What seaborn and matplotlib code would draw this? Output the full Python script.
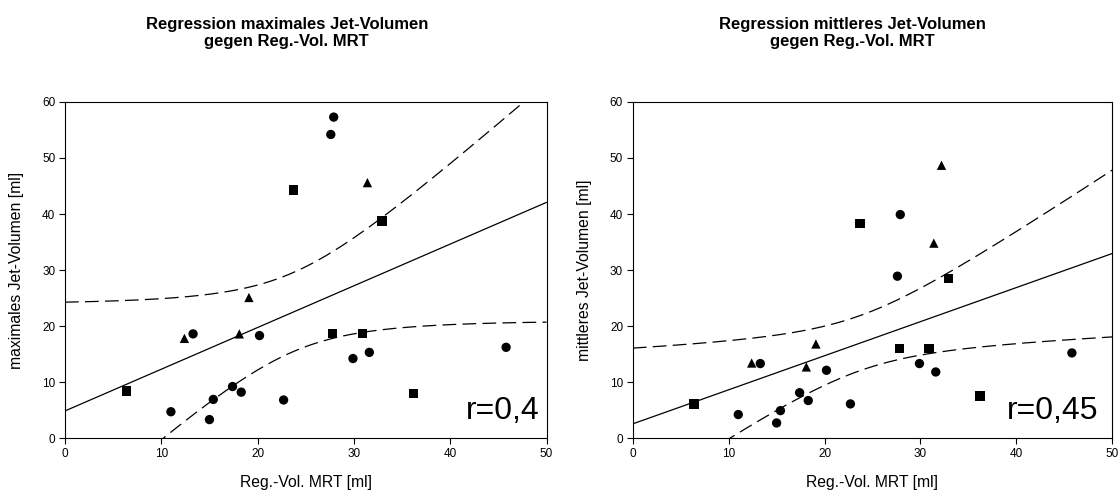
import numpy as np
import pandas as pd
import matplotlib
matplotlib.use("Agg")
import matplotlib.pyplot as plt
import seaborn as sns

sns.set_theme(style="white")
plt.rcParams['font.family'] = ['Liberation Sans', 'DejaVu Sans']
plt.rcParams['text.color'] = 'black'
plt.rcParams['axes.labelcolor'] = 'black'
plt.rcParams['xtick.color'] = 'black'
plt.rcParams['ytick.color'] = 'black'

# x values (Reg.-Vol. MRT) by group
x_circle = [13.3, 20.2, 17.4, 18.3, 15.4, 22.7, 11.0, 15.0, 27.9, 27.6, 29.9, 31.6, 45.8]
x_square = [23.7, 6.4, 32.9, 27.8, 30.9, 36.2]
x_triangle = [19.1, 12.4, 18.1, 31.4, 32.2]

# maximales Jet-Volumen (last triangle lies above the visible range)
ymax_circle = [18.6, 18.3, 9.2, 8.2, 6.9, 6.8, 4.7, 3.3, 57.3, 54.2, 14.2, 15.3, 16.2]
ymax_square = [44.3, 8.4, 38.75, 18.7, 18.7, 8.0]
ymax_triangle = [25.1, 17.8, 18.6, 45.6, 61.5]

# mittleres Jet-Volumen
ymean_circle = [13.3, 12.1, 8.1, 6.7, 4.9, 6.1, 4.2, 2.7, 39.9, 28.9, 13.3, 11.8, 15.2]
ymean_square = [38.3, 6.1, 28.45, 15.95, 15.95, 7.5]
ymean_triangle = [16.8, 13.4, 12.7, 34.8, 48.7]

titles = ["Regression maximales Jet-Volumen\ngegen Reg.-Vol. MRT",
          "Regression mittleres Jet-Volumen\ngegen Reg.-Vol. MRT"]
ylabels = ["maximales Jet-Volumen [ml]", "mittleres Jet-Volumen [ml]"]
xlabel = "Reg.-Vol. MRT [ml]"
r_texts = ["r=0,4", "r=0,45"]
x_ticks = [0, 10, 20, 30, 40, 50]
y_ticks = [0, 10, 20, 30, 40, 50, 60]
T_VAL = 2.074


def make_df(xc, yc, xs, ys, xt, yt):
    return pd.DataFrame({
        "x": list(xc) + list(xs) + list(xt),
        "y": list(yc) + list(ys) + list(yt),
        "g": ["c"] * len(xc) + ["s"] * len(xs) + ["t"] * len(xt),
    })


dfs = [make_df(x_circle, ymax_circle, x_square, ymax_square, x_triangle, ymax_triangle),
       make_df(x_circle, ymean_circle, x_square, ymean_square, x_triangle, ymean_triangle)]

fig = plt.figure(figsize=(11.2, 4.95), dpi=100)
axes = [fig.add_axes([0.058, 0.115, 0.430, 0.679]),
        fig.add_axes([0.565, 0.115, 0.428, 0.679])]
title_x = [0.256, 0.761]
r_x = [0.986, 0.972]

for i, (ax, df) in enumerate(zip(axes, dfs)):
    x = df["x"].to_numpy()
    y = df["y"].to_numpy()
    n = len(x)
    b, a = np.polyfit(x, y, 1)
    xs = np.linspace(0, 50, 300)
    yhat = a + b * xs
    resid = y - (a + b * x)
    s = np.sqrt(np.sum(resid ** 2) / (n - 2))
    se = s * np.sqrt(1 / n + (xs - x.mean()) ** 2 / np.sum((x - x.mean()) ** 2))
    fit = pd.DataFrame({"x": xs, "fit": yhat, "lo": yhat - T_VAL * se, "hi": yhat + T_VAL * se})

    sns.lineplot(data=fit, x="x", y="fit", ax=ax, color="black", lw=0.9)
    for col in ["lo", "hi"]:
        sns.lineplot(data=fit, x="x", y=col, ax=ax, color="black", lw=0.9,
                     dashes=False, linestyle=(0, (11, 5)))
    sns.scatterplot(data=df, x="x", y="y", style="g", ax=ax, color="black",
                    markers={"c": "o", "s": "s", "t": "^"},
                    s=45, edgecolor="black", linewidth=0, legend=False, zorder=3)

    ax.set_xlim(0, 50)
    ax.set_ylim(0, 60)
    ax.set_xticks(x_ticks)
    ax.set_yticks(y_ticks)
    ax.tick_params(axis="both", labelsize=8.5, length=4, width=0.8, direction="out",
                   bottom=True, left=True, pad=3)
    for sp in ax.spines.values():
        sp.set_color("black")
        sp.set_linewidth(0.8)
    ax.set_xlabel(xlabel, fontsize=11.3, labelpad=11)
    ax.set_ylabel(ylabels[i], fontsize=11.3, labelpad=13)
    ax.text(r_x[i], 0.035, r_texts[i], transform=ax.transAxes, ha="right", va="bottom",
            fontsize=23)
    fig.text(title_x[i], 0.966, titles[i], ha="center", va="top", fontsize=12,
             fontweight="bold", linespacing=1.15)

fig.savefig("out.png", dpi=100)
